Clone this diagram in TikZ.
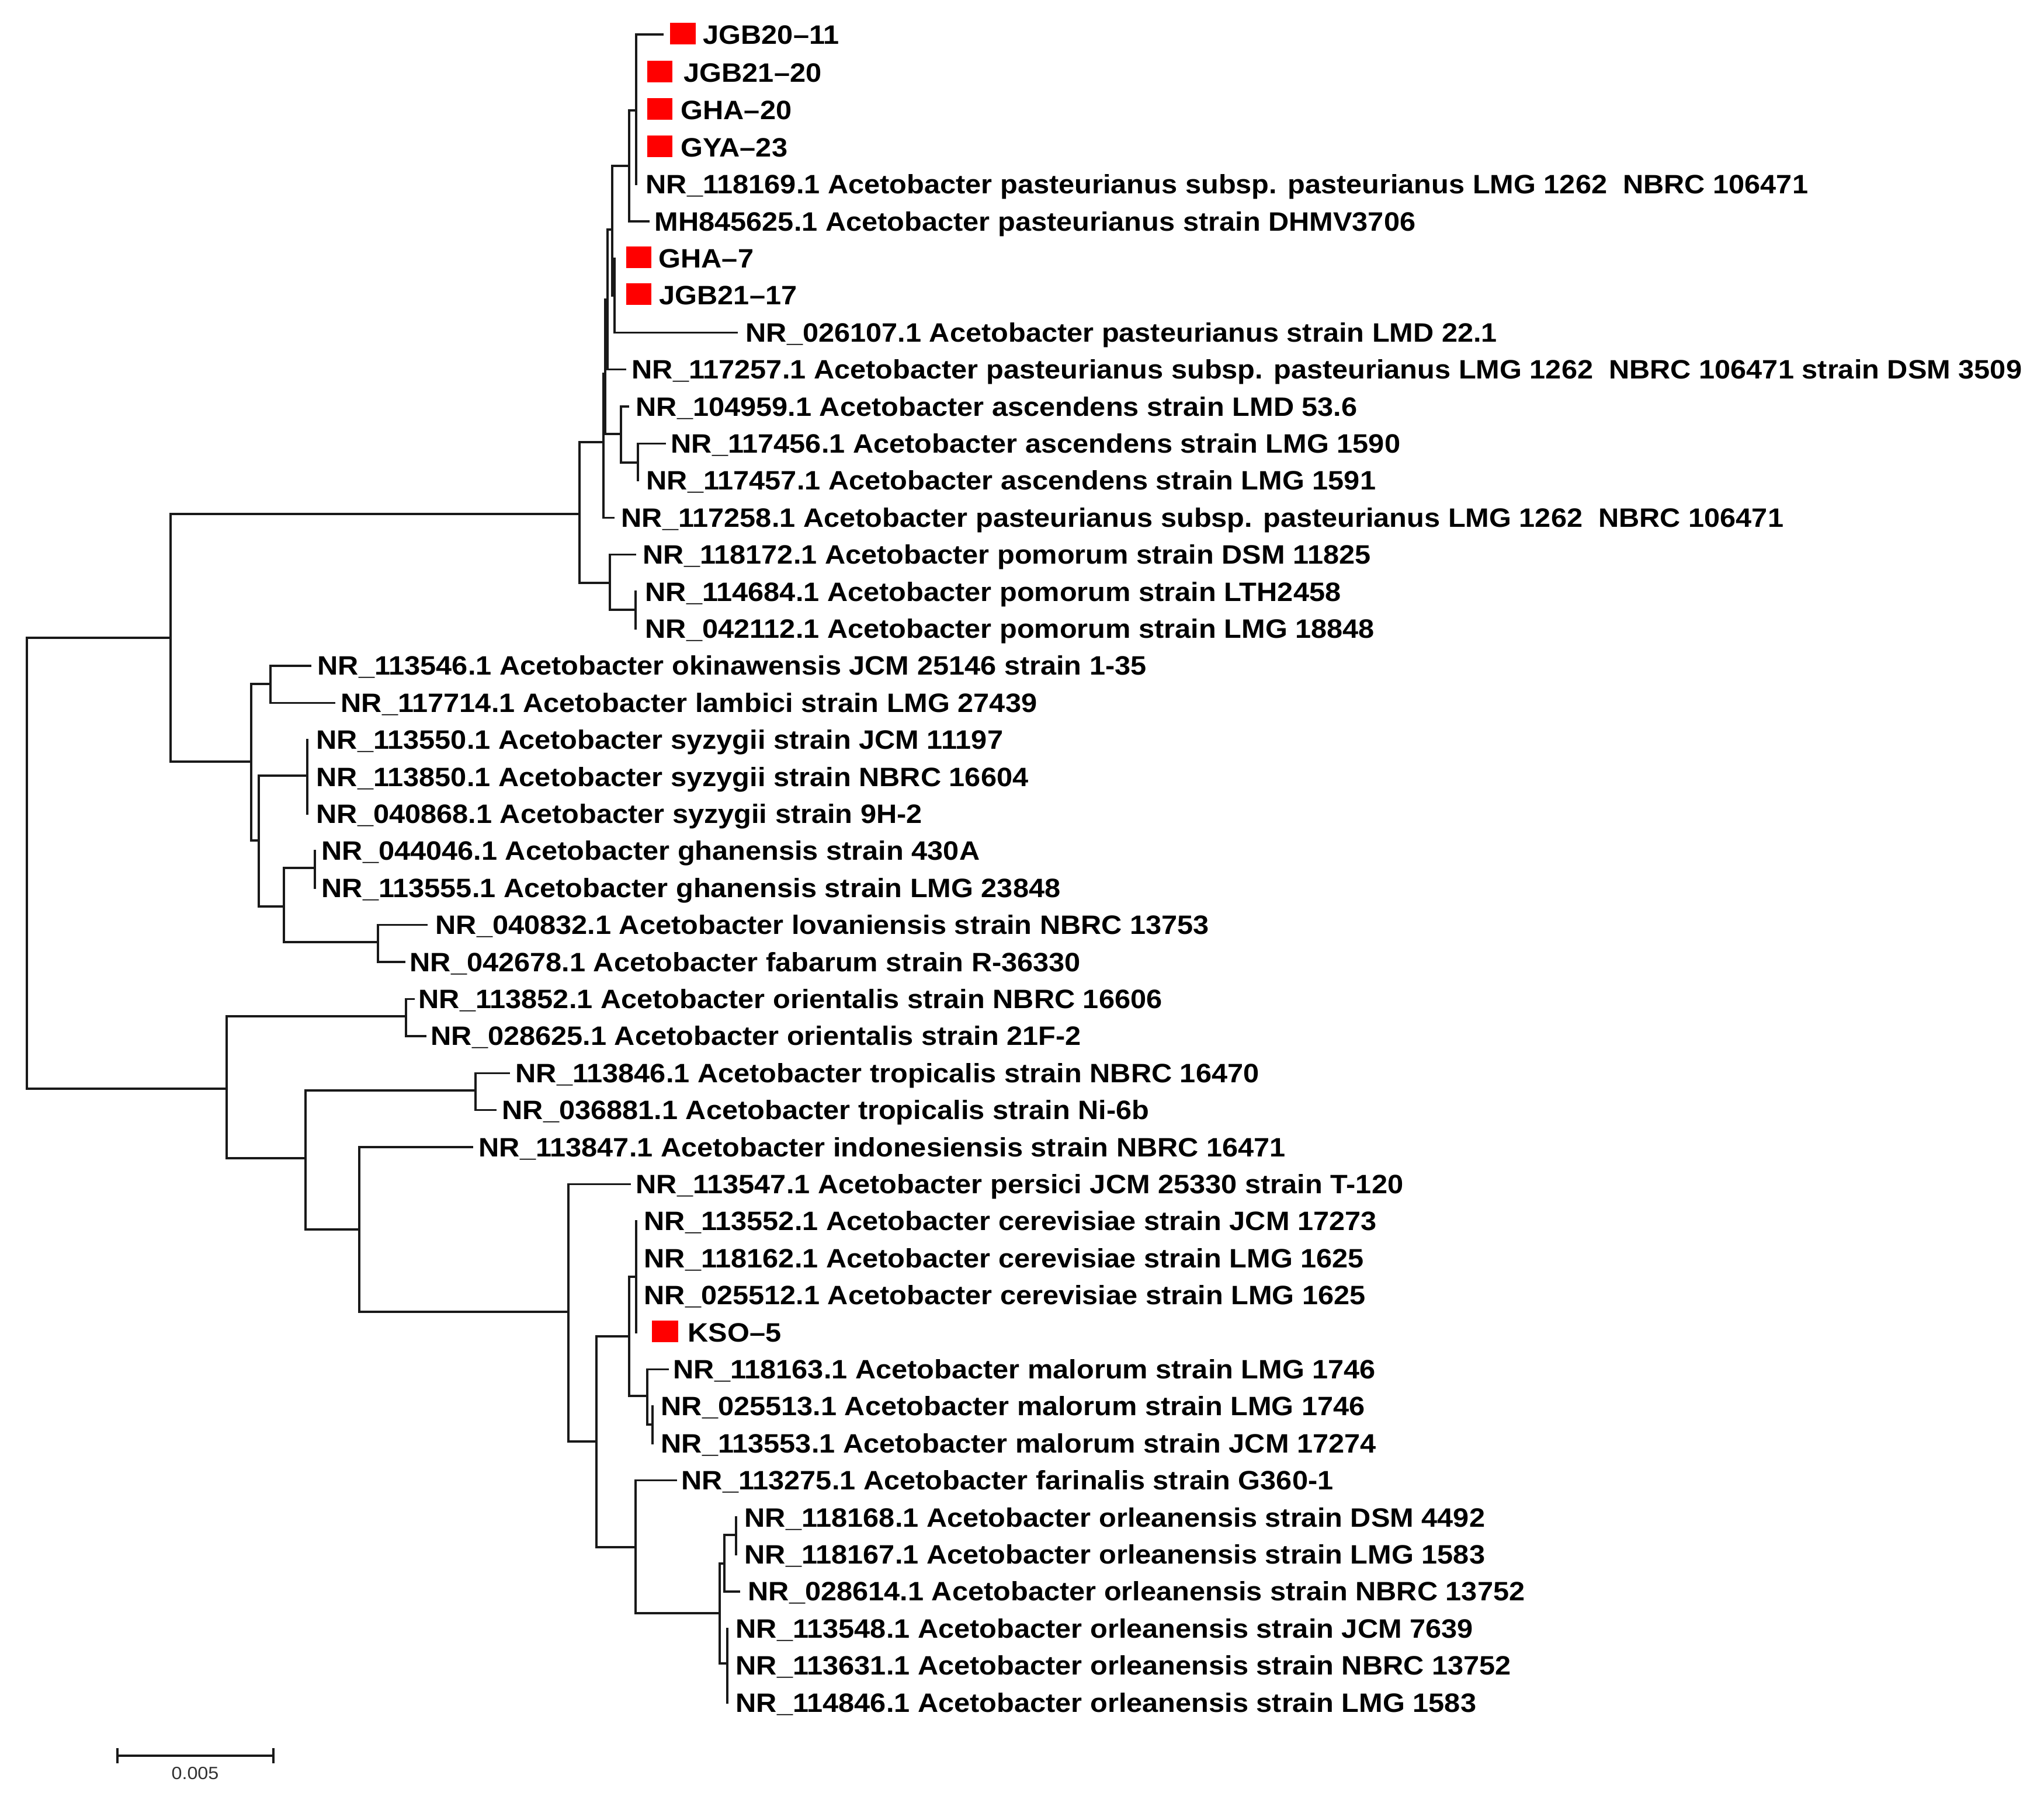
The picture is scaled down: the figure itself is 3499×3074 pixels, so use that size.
\documentclass[tikz,border=0pt]{standalone}
\usepackage{fontspec}
\setmainfont{Liberation Sans}[FakeStretch=1.07]
\definecolor{brc}{RGB}{25,25,25}
\newcommand\labfont{\fontsize{12.95pt}{14pt}\selectfont\bfseries}
\newcommand\barfont{\fontsize{8.6pt}{10pt}\selectfont}
\newcommand\leaf[5]{%
  \coordinate (l#1) at (#2,#3);
  \node[lab] (t#1) at (#4-3,#3+16) {#5};}
\newcommand\redsq[3]{\fill[sq] (#1,#3-18.5) rectangle (#2,#3+18.5);}
\begin{document}
\begin{tikzpicture}[x=0.01cm,y=-0.01cm,
  br/.style={draw=brc,line width=0.95pt,line cap=rect},
  lab/.style={anchor=base west,inner sep=0pt,font=\labfont,text=black},
  sq/.style={fill=red},
  barlab/.style={inner sep=0pt,font=\barfont,text={rgb,255:red,50;green,50;blue,50}}]
\fill[white] (0,0) rectangle (3499,3074);
\path[use as bounding box] (0,0) rectangle (3499,3074);
% internal nodes
\coordinate (root) at (46,1478);
\coordinate (A) at (292,1092);
\coordinate (B) at (992,880);
\coordinate (C) at (1033,757);
\coordinate (E) at (1036,640);
\coordinate (G) at (1040,513);
\coordinate (H) at (1048,393);
\coordinate (I) at (1077,284);
\coordinate (K) at (1089,189);
\coordinate (J) at (1052,506);
\coordinate (ASC) at (1063,743);
\coordinate (ASCb) at (1092,792);
\coordinate (D) at (1044,998);
\coordinate (DD) at (1088,1044);
\coordinate (P) at (430,1304);
\coordinate (Q) at (463,1171);
\coordinate (R) at (443,1439);
\coordinate (S) at (526,1328);
\coordinate (T) at (486,1552);
\coordinate (U) at (539,1486);
\coordinate (V) at (647,1613);
\coordinate (W) at (388,1864);
\coordinate (X) at (695,1740);
\coordinate (Y) at (523,1983);
\coordinate (Z) at (814,1867);
\coordinate (AA) at (615,2105);
\coordinate (AB) at (973,2246);
\coordinate (AC) at (1021,2468);
\coordinate (AI) at (1077,2288);
\coordinate (AJ) at (1089,2186);
\coordinate (AK) at (1108,2390);
\coordinate (AL) at (1117,2439);
\coordinate (AD) at (1088,2649);
\coordinate (AE) at (1232,2762);
\coordinate (AF) at (1240,2677);
\coordinate (AG) at (1260,2628);
\coordinate (AH) at (1245,2848);
% leaves
\leaf{1}{1134}{59}{1206}{JGB20–11}
\leaf{2}{1089}{124}{1173}{JGB21–20}
\leaf{3}{1089}{188.8}{1168}{GHA–20}
\leaf{4}{1089}{252.2}{1168}{GYA–23}
\leaf{5}{1089}{315.6}{1108}{NR\_118169.1 Acetobacter pasteurianus subsp. pasteurianus LMG 1262\ \ NBRC 106471}
\leaf{6}{1110}{379}{1123}{MH845625.1 Acetobacter pasteurianus strain DHMV3706}
\leaf{7}{1052}{442.4}{1130}{GHA–7}
\leaf{8}{1052}{505.8}{1131}{JGB21–17}
\leaf{9}{1261}{569.2}{1279}{NR\_026107.1 Acetobacter pasteurianus strain LMD 22.1}
\leaf{10}{1070}{632.6}{1084}{NR\_117257.1 Acetobacter pasteurianus subsp. pasteurianus LMG 1262\ \ NBRC 106471 strain DSM 3509}
\leaf{11}{1075}{696}{1091}{NR\_104959.1 Acetobacter ascendens strain LMD 53.6}
\leaf{12}{1138}{759.4}{1151}{NR\_117456.1 Acetobacter ascendens strain LMG 1590}
\leaf{13}{1092}{822.8}{1109}{NR\_117457.1 Acetobacter ascendens strain LMG 1591}
\leaf{14}{1050}{886.2}{1066}{NR\_117258.1 Acetobacter pasteurianus subsp. pasteurianus LMG 1262\ \ NBRC 106471}
\leaf{15}{1087}{949.6}{1103}{NR\_118172.1 Acetobacter pomorum strain DSM 11825}
\leaf{16}{1088}{1013}{1107}{NR\_114684.1 Acetobacter pomorum strain LTH2458}
\leaf{17}{1088}{1076.4}{1107}{NR\_042112.1 Acetobacter pomorum strain LMG 18848}
\leaf{18}{531}{1139.8}{546}{NR\_113546.1 Acetobacter okinawensis JCM 25146 strain 1-35}
\leaf{19}{572}{1203.2}{586}{NR\_117714.1 Acetobacter lambici strain LMG 27439}
\leaf{20}{526}{1266.6}{544}{NR\_113550.1 Acetobacter syzygii strain JCM 11197}
\leaf{21}{526}{1330}{544}{NR\_113850.1 Acetobacter syzygii strain NBRC 16604}
\leaf{22}{526}{1393.4}{544}{NR\_040868.1 Acetobacter syzygii strain 9H-2}
\leaf{23}{539}{1456.8}{553}{NR\_044046.1 Acetobacter ghanensis strain 430A}
\leaf{24}{539}{1520.2}{553}{NR\_113555.1 Acetobacter ghanensis strain LMG 23848}
\leaf{25}{730}{1583.6}{748}{NR\_040832.1 Acetobacter lovaniensis strain NBRC 13753}
\leaf{26}{692}{1647}{704}{NR\_042678.1 Acetobacter fabarum strain R-36330}
\leaf{27}{708}{1710.4}{719}{NR\_113852.1 Acetobacter orientalis strain NBRC 16606}
\leaf{28}{728}{1773.8}{740}{NR\_028625.1 Acetobacter orientalis strain 21F-2}
\leaf{29}{871}{1837.2}{885}{NR\_113846.1 Acetobacter tropicalis strain NBRC 16470}
\leaf{30}{848}{1900.6}{862}{NR\_036881.1 Acetobacter tropicalis strain Ni-6b}
\leaf{31}{808}{1964}{822}{NR\_113847.1 Acetobacter indonesiensis strain NBRC 16471}
\leaf{32}{1078}{2027.4}{1091}{NR\_113547.1 Acetobacter persici JCM 25330 strain T-120}
\leaf{33}{1089}{2090.8}{1105}{NR\_113552.1 Acetobacter cerevisiae strain JCM 17273}
\leaf{34}{1089}{2154.2}{1105}{NR\_118162.1 Acetobacter cerevisiae strain LMG 1625}
\leaf{35}{1089}{2217.6}{1105}{NR\_025512.1 Acetobacter cerevisiae strain LMG 1625}
\leaf{36}{1089}{2281}{1180}{KSO–5}
\leaf{37}{1143}{2344.4}{1155}{NR\_118163.1 Acetobacter malorum strain LMG 1746}
\leaf{38}{1117}{2407.8}{1134}{NR\_025513.1 Acetobacter malorum strain LMG 1746}
\leaf{39}{1117}{2471.2}{1134}{NR\_113553.1 Acetobacter malorum strain JCM 17274}
\leaf{40}{1157}{2534.6}{1169}{NR\_113275.1 Acetobacter farinalis strain G360-1}
\leaf{41}{1260}{2598}{1277}{NR\_118168.1 Acetobacter orleanensis strain DSM 4492}
\leaf{42}{1260}{2661.4}{1277}{NR\_118167.1 Acetobacter orleanensis strain LMG 1583}
\leaf{43}{1265}{2724.8}{1283}{NR\_028614.1 Acetobacter orleanensis strain NBRC 13752}
\leaf{44}{1245}{2788.2}{1262}{NR\_113548.1 Acetobacter orleanensis strain JCM 7639}
\leaf{45}{1245}{2851.6}{1262}{NR\_113631.1 Acetobacter orleanensis strain NBRC 13752}
\leaf{46}{1245}{2915}{1262}{NR\_114846.1 Acetobacter orleanensis strain LMG 1583}
% red markers
\redsq{1147}{1191}{57}
\redsq{1108}{1151}{122}
\redsq{1108}{1151}{186.8}
\redsq{1108}{1151}{250.2}
\redsq{1072}{1115}{440.4}
\redsq{1072}{1115}{503.8}
\redsq{1116}{1161}{2279}
% branches
\foreach \p/\c in {root/A,root/W,A/B,A/P,B/C,B/D,C/E,C/l14,E/G,E/ASC,G/H,G/l10,
  H/I,H/J,I/K,I/l6,K/l1,K/l2,K/l3,K/l4,K/l5,J/l7,J/l8,J/l9,ASC/l11,ASC/ASCb,
  ASCb/l12,ASCb/l13,D/l15,D/DD,DD/l16,DD/l17,P/Q,P/R,Q/l18,Q/l19,R/S,R/T,
  S/l20,S/l21,S/l22,T/U,T/V,U/l23,U/l24,V/l25,V/l26,W/X,W/Y,X/l27,X/l28,
  Y/Z,Y/AA,Z/l29,Z/l30,AA/l31,AA/AB,AB/l32,AB/AC,AC/AI,AC/AD,AI/AJ,AI/AK,
  AJ/l33,AJ/l34,AJ/l35,AJ/l36,AK/l37,AK/AL,AL/l38,AL/l39,AD/l40,AD/AE,
  AE/AF,AE/AH,AF/AG,AF/l43,AG/l41,AG/l42,AH/l44,AH/l45,AH/l46}
  \draw[br] (\p) |- (\c);
% scale bar
\coordinate (sbl) at (201,3006);
\coordinate (sbr) at (468,3006);
\coordinate (sblt) at (201,2995);
\coordinate (sblb) at (201,3017);
\coordinate (sbrt) at (468,2995);
\coordinate (sbrb) at (468,3017);
\draw[br] (sbl) -- (sbr);
\draw[br] (sblt) -- (sblb);
\draw[br] (sbrt) -- (sbrb);
\node[barlab] (sbtext) at (334,3036) {0.005};
\end{tikzpicture}
\end{document}
